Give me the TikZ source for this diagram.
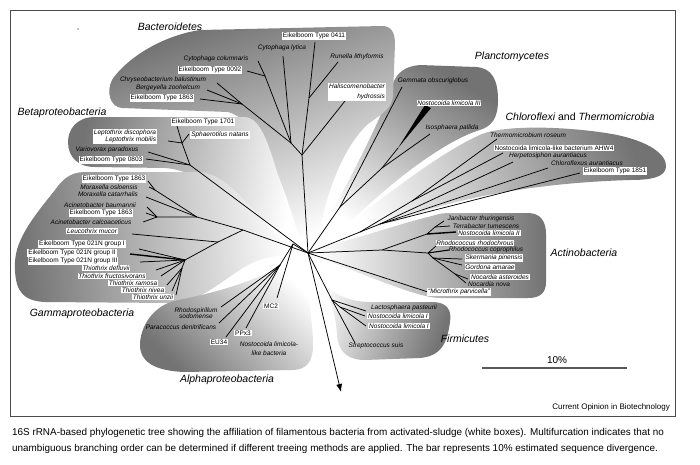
\documentclass[tikz,border=0pt]{standalone}
\usepackage{fontspec}
\setmainfont{Liberation Sans}
\usetikzlibrary{arrows.meta}
\tikzset{
  lbl/.style={font=\fontsize{6.5}{7}\selectfont\itshape, inner sep=0.8pt},
  boxlbl/.style={lbl, fill=white},
  uplbl/.style={font=\fontsize{6.5}{7}\selectfont, inner sep=0.8pt, fill=white},
  clade/.style={font=\fontsize{10.5}{12}\selectfont\itshape, inner sep=0pt},
  branch/.style={line width=0.75pt},
  blob/.style={top color=black!55, bottom color=white, draw=none},
}
\begin{document}
\begin{tikzpicture}[x=1pt, y=-1pt]
            \useasboundingbox (0,0) rectangle (700,464);
            \path[blob, shading angle=-70] (330,238) .. controls (380,200) and (440,152) .. (482,134) .. controls (505,125) and (565,126) .. (612,134) .. controls (650,141) and (667,155) .. (666,167) .. controls (665,177) and (652,180) .. (630,180) .. controls (560,182) and (482,192) .. (422,212) .. controls (382,225) and (352,238) .. (332,246) -- cycle;
            \path[blob, shading angle=-30] (318,236) .. controls (350,180) and (380,122) .. (392,86) .. controls (396,73) and (405,66) .. (420,65) -- (476,67) .. controls (492,68) and (498,80) .. (498,100) .. controls (498,118) and (492,126) .. (480,130) .. controls (440,142) and (378,192) .. (330,242) -- cycle;
            \path[blob, shading angle=20] (300,240) .. controls (282,180) and (262,122) .. (228,112) -- (122,108) .. controls (110,107) and (106,92) .. (112,80) .. controls (125,60) and (160,36) .. (200,30) -- (382,26) .. controls (391,26) and (395,32) .. (395,44) -- (393,96) .. controls (392,108) and (382,114) .. (368,124) .. controls (345,145) and (326,190) .. (318,240) -- cycle;
            \path[blob, shading angle=80] (300,245) .. controls (275,175) and (268,118) .. (245,117) -- (95,117) .. controls (76,117) and (68,130) .. (68,142) .. controls (68,157) and (78,167) .. (95,167) -- (165,168) .. controls (200,170) and (262,212) .. (295,250) -- cycle;
            \path[blob, shading angle=95] (292,250) .. controls (255,215) and (228,173) .. (200,172) -- (85,172) .. controls (70,172) and (62,180) .. (55,190) .. controls (35,215) and (16,238) .. (15,262) .. controls (14,290) and (22,301) .. (45,302) -- (172,303) .. controls (200,303) and (222,280) .. (248,265) .. controls (266,256) and (280,255) .. (292,256) -- cycle;
            \path[blob, shading angle=135] (292,258) .. controls (270,275) and (230,290) .. (178,300) .. controls (152,305) and (140,328) .. (140,345) .. controls (140,362) and (155,371) .. (185,372) -- (292,370) .. controls (308,370) and (313,360) .. (313,345) .. controls (313,318) and (306,285) .. (302,258) -- cycle;
            \path[blob, shading angle=-110] (318,275) .. controls (332,296) and (350,302) .. (372,302) -- (432,302) .. controls (447,302) and (452,310) .. (450,322) .. controls (447,345) and (440,356) .. (420,358) -- (365,360) .. controls (346,360) and (338,350) .. (337,335) .. controls (336,312) and (328,292) .. (312,268) -- cycle;
            \path[blob, shading angle=-90] (318,248) .. controls (360,238) and (405,222) .. (432,216) .. controls (438,214) and (442,213) .. (452,213) -- (528,213) .. controls (540,213) and (546,221) .. (546,234) -- (546,282) .. controls (546,293) and (540,298) .. (528,298) -- (440,298) .. controls (418,298) and (370,276) .. (318,258) -- cycle;
            \draw[line width=0.8pt, black!70] (10,10) rectangle (675,416);
            \fill (78,29) circle (0.7);
            % tree
            \coordinate (R) at (308,253);
            \coordinate (bA) at (302,155);
            \coordinate (bR) at (309,98);
            \coordinate (t0411) at (315,42);
            \coordinate (tRun) at (338,62);
            \coordinate (tHal) at (345,101);
            \coordinate (bC) at (291,143);
            \coordinate (tLyt) at (283,56);
            \coordinate (bD) at (265,76);
            \coordinate (tCol) at (258,61);
            \coordinate (t0092) at (247,71);
            \coordinate (bE) at (242,104);
            \coordinate (tChr) at (217,83);
            \coordinate (tBer) at (207,90);
            \coordinate (t1863a) at (200,99);
            \draw[branch] (R) -- (bA) -- (bR) -- (t0411);
            \draw[branch] (bR) -- (tRun);
            \draw[branch] (bA) -- (tHal);
            \draw[branch] (bA) -- (bC) -- (tLyt);
            \draw[branch] (bC) -- (bD) -- (tCol);
            \draw[branch] (bD) -- (t0092);
            \draw[branch] (bC) -- (bE) -- (tChr);
            \draw[branch] (bE) -- (tBer);
            \draw[branch] (bE) -- (t1863a);
            \coordinate (bt1) at (190,165);
            \coordinate (tVar) at (148,152);
            \coordinate (t0803) at (146,159);
            \coordinate (bt2) at (182,143);
            \coordinate (t1701) at (177,126);
            \coordinate (tLep) at (168,141);
            \coordinate (tSph) at (189,134);
            \draw[branch] (R) -- (bt1) -- (tVar);
            \draw[branch] (bt1) -- (t0803);
            \draw[branch] (bt1) -- (bt2) -- (t1701);
            \draw[branch] (bt2) -- (tLep);
            \draw[branch] (bt2) -- (tSph);
            \coordinate (g0) at (243,230);
            \coordinate (gM) at (197,217);
            \coordinate (tMcat) at (146,197);
            \coordinate (g1) at (155,190);
            \coordinate (t1863b) at (148,181);
            \coordinate (tMosl) at (149,187);
            \coordinate (gA) at (157,217);
            \coordinate (tAbau) at (147,207);
            \coordinate (t1863c) at (146,213);
            \coordinate (tAcal) at (143,222);
            \coordinate (gL) at (218,242);
            \coordinate (tLeu) at (132,234);
            \coordinate (gT) at (185,260);
            \coordinate (t021a) at (139,249);
            \coordinate (t021b) at (130,254);
            \coordinate (t021c) at (140,262);
            \coordinate (tTdef) at (156,270);
            \coordinate (tTfru) at (161,276);
            \coordinate (gT2) at (182,268);
            \coordinate (tTram) at (167,285);
            \coordinate (tTniv) at (172,291);
            \coordinate (tTunz) at (176,295);
            \draw[branch] (R) -- (g0) -- (gM) -- (tMcat);
            \draw[branch] (gM) -- (g1) -- (t1863b);
            \draw[branch] (g1) -- (tMosl);
            \draw[branch] (gM) -- (gA) -- (tAbau);
            \draw[branch] (gA) -- (t1863c);
            \draw[branch] (gA) -- (tAcal);
            \draw[branch] (g0) -- (gL) -- (tLeu);
            \draw[branch] (gL) -- (gT) -- (t021a);
            \draw[line width=1.4pt] (gT) -- (t021b);
            \draw[branch] (gT) -- (t021c);
            \draw[branch] (gT) -- (tTdef);
            \draw[branch] (gT) -- (tTfru);
            \draw[branch] (gT) -- (gT2) -- (tTram);
            \draw[branch] (gT2) -- (tTniv);
            \draw[branch] (gT2) -- (tTunz);
            \coordinate (aA) at (293,244);
            \coordinate (tMC2) at (277,298);
            \coordinate (aB) at (280,265);
            \coordinate (tRho) at (221,307);
            \coordinate (tPar) at (219,323);
            \coordinate (tEU34) at (226,337);
            \coordinate (tPPx3) at (246,328);
            \draw[branch] (R) -- (aA) -- (tMC2);
            \draw[branch] (aA) -- (aB) -- (tRho);
            \draw[branch] (aB) -- (tPar);
            \draw[branch] (aB) -- (tEU34);
            \draw[branch] (aB) -- (tPPx3);
            \coordinate (fN) at (332,300);
            \coordinate (fB) at (340,307);
            \coordinate (tLac) at (366,311);
            \coordinate (tNl1a) at (365,316);
            \coordinate (tNl1b) at (366,326);
            \coordinate (tStr) at (355,343);
            \draw[branch] (R) -- (fN) -- (tLac);
            \draw[branch] (fN) -- (fB) -- (tNl1a);
            \draw[branch] (fB) -- (tNl1b);
            \draw[branch] (fN) -- (tStr);
            \coordinate (aN) at (382,250);
            \coordinate (aU) at (427,234);
            \coordinate (aJ) at (435,227);
            \coordinate (tJan) at (444,221);
            \coordinate (tTer) at (450,226);
            \coordinate (tNl2) at (456,232);
            \coordinate (aR) at (428,253);
            \coordinate (tRrh) at (436,246);
            \coordinate (tRco) at (449,250);
            \coordinate (aS) at (433,258);
            \coordinate (tSke) at (462,259);
            \coordinate (tGor) at (462,265);
            \coordinate (aNo) at (455,274);
            \coordinate (tNast) at (468,279);
            \coordinate (tNnov) at (466,283);
            \coordinate (tMic) at (428,292);
            \draw[branch] (R) -- (aN) -- (aU) -- (aJ) -- (tJan);
            \draw[branch] (aJ) -- (tTer);
            \draw[line width=1.4pt] (aU) -- (tNl2);
            \draw[branch] (aN) -- (aR) -- (tRrh);
            \draw[line width=1.1pt] (aR) -- (tRco);
            \draw[branch] (aR) -- (aS) -- (tSke);
            \draw[branch] (aS) -- (tGor);
            \draw[branch] (aS) -- (aNo) -- (tNast);
            \draw[branch] (aNo) -- (tNnov);
            \draw[branch] (R) -- (tMic);
            \coordinate (cA) at (360,232);
            \coordinate (cB) at (412,201);
            \coordinate (tThe) at (497,139);
            \coordinate (tAHW) at (503,153);
            \coordinate (cC) at (380,224);
            \coordinate (tHer) at (513,162);
            \coordinate (tChl) at (548,168);
            \coordinate (t1851) at (580,173);
            \draw[branch] (R) -- (cA) -- (cB) -- (tThe);
            \draw[branch] (cB) -- (tAHW);
            \draw[branch] (cA) -- (cC) -- (tHer);
            \draw[branch] (cC) -- (tChl);
            \draw[branch] (cC) -- (t1851);
            \coordinate (pA) at (340,207);
            \coordinate (tGem) at (402,87);
            \coordinate (pB) at (382,168);
            \coordinate (tIso) at (430,134);
            \coordinate (pW) at (398,148);
            \draw[branch] (R) -- (pA) -- (tGem);
            \draw[branch] (pA) -- (pB) -- (tIso);
            \draw[branch] (pB) -- (pW);
            \fill (pW) -- (431,108) -- (425,105) -- cycle;
            \coordinate (arr) at (341,392);
            \draw[branch, -{Latex[length=8pt,width=6pt]}] (R) -- (arr);
            % labels
            \node[uplbl] (l0411) at (314,36) {Eikelboom Type 0411};
            \node[lbl] (lLyt) at (282,48) {Cytophaga lytica};
            \node[lbl] (lRun) at (357,57) {Runella lithyformis};
            \node[lbl] (lCol) at (216,59) {Cytophaga columnaris};
            \node[uplbl] (l0092) at (210,70) {Eikelboom Type 0092};
            \node[boxlbl, align=right, font=\fontsize{6.5}{9.5}\selectfont\itshape] (lHal) at (357,92) {Haliscomenobacter\\hydrossis};
            \node[lbl] (lChr) at (163,80) {Chryseobacterium balustinum};
            \node[lbl] (lBer) at (168,88) {Bergeyella zoohelcum};
            \node[uplbl] (l1863a) at (162,98) {Eikelboom Type 1863};
            \node[uplbl] (l1701) at (203,122) {Eikelboom Type 1701};
            \node[boxlbl, align=right] (lLep) at (125,136.5) {Leptothrix discophora\\Leptothrix mobilis};
            \node[boxlbl] (lSph) at (220,135) {Sphaerotilus natans};
            \node[lbl] (lVar) at (107,150) {Variovorax paradoxus};
            \node[uplbl] (l0803) at (111,160) {Eikelboom Type 0803};
            \node[uplbl] (l1863b) at (114,179) {Eikelboom Type 1863};
            \node[lbl] (lMosl) at (109,187) {Moraxella osloensis};
            \node[lbl] (lMcat) at (108,194) {Moraxella catarrhalis};
            \node[lbl] (lAbau) at (100,205) {Acinetobacter baumannii};
            \node[uplbl] (l1863c) at (101,213) {Eikelboom Type 1863};
            \node[lbl] (lAcal) at (91,222) {Acinetobacter calcoaceticus};
            \node[boxlbl] (lLeu) at (92,231) {Leucothrix mucor};
            \node[uplbl] (l021a) at (82,244) {Eikelboom Type 021N group I};
            \node[uplbl] (l021b) at (72,253) {Eikelboom Type 021N group II};
            \node[uplbl] (l021c) at (73,261) {Eikelboom Type 021N group III};
            \node[boxlbl] (lTdef) at (106,268) {Thiothrix defluvii};
            \node[boxlbl] (lTfru) at (112,276) {Thiothrix fructosivorans};
            \node[boxlbl] (lTram) at (133,283) {Thiothrix ramosa};
            \node[boxlbl] (lTniv) at (143,290) {Thiothrix nivea};
            \node[boxlbl] (lTunz) at (153,297) {Thiothrix unzii};
            \node[lbl, align=center, font=\fontsize{6.5}{6.5}\selectfont\itshape] (lRho) at (196,313) {Rhodospirillum\\sodomense};
            \node[lbl] (lPar) at (181,327) {Paracoccus denitrificans};
            \node[uplbl] (lEU34) at (219,342) {EU34};
            \node[uplbl] (lPPx3) at (243,333) {PPx3};
            \node[uplbl] (lMC2) at (271,306) {MC2};
            \node[lbl, align=center, font=\fontsize{6.5}{9}\selectfont\itshape] (lNlb) at (269,348.5) {Nostocoida limicola-\\like bacteria};
            \node[lbl] (lLac) at (404,308) {Lactosphaera pasteurii};
            \node[boxlbl] (lNl1a) at (398,316) {Nostocoida limicola I};
            \node[boxlbl] (lNl1b) at (399,326) {Nostocoida limicola I};
            \node[lbl] (lStr) at (376,346) {Streptococcus suis};
            \node[lbl] (lJan) at (481,219) {Janibacter thuringensis};
            \node[lbl] (lTer) at (486,226) {Terrabacter tumescens};
            \node[boxlbl] (lNl2) at (489,233) {Nostocoida limicola II};
            \node[boxlbl] (lRrh) at (475,243) {Rhodococcus rhodochrous};
            \node[lbl] (lRco) at (486,250) {Rhodococcus coprophilus};
            \node[boxlbl] (lSke) at (494,258) {Skermania pinensis};
            \node[boxlbl] (lGor) at (490,267) {Gordona amarae};
            \node[boxlbl] (lNast) at (500,277) {Nocardia asteroides};
            \node[lbl] (lNnov) at (489,284) {Nocardia nova};
            \node[boxlbl] (lMic) at (459,292) {“Microthrix parvicella”};
            \node[lbl] (lThe) at (528,135) {Thermomicrobium roseum};
            \node[uplbl] (lAHW) at (554,148) {Nostocoida limicola-like bacterium AHW4};
            \node[lbl] (lHer) at (548,156) {Herpetosiphon aurantiacus};
            \node[lbl] (lChl) at (587,163) {Chloroflexus aurantiacus};
            \node[uplbl] (l1851) at (615,171) {Eikelboom Type 1851};
            \node[lbl] (lGem) at (433,81) {Gemmata obscuriglobus};
            \node[boxlbl] (lNl3) at (449,103) {Nostocoida limicola III};
            \node[lbl] (lIso) at (452,128) {Isosphaera pallida};
            \node[clade] (cBac) at (170,27) {Bacteroidetes};
            \node[clade] (cBeta) at (62,113) {Betaproteobacteria};
            \node[clade] (cGam) at (82,314) {Gammaproteobacteria};
            \node[clade] (cAlp) at (227,380) {Alphaproteobacteria};
            \node[clade] (cFir) at (465,339) {Firmicutes};
            \node[clade] (cAct) at (584,253) {Actinobacteria};
            \node[clade] (cChl) at (580,117) {Chloroflexi \upshape and \itshape Thermomicrobia};
            \node[clade] (cPla) at (512,57) {Planctomycetes};
            \coordinate (sbL) at (482,368);
            \coordinate (sbR) at (627,368);
            \draw[line width=1.2pt, black!65] (sbL) -- (sbR);
            \node[font=\fontsize{10}{12}\selectfont] (pct) at (557,360) {10\%};
            \node[font=\fontsize{8}{10}\selectfont, anchor=east, inner sep=0pt] (jrn) at (670,407) {Current Opinion in Biotechnology};
            \node[font=\fontsize{9.9}{11}\selectfont, anchor=west, inner sep=0pt] (cap1) at (12,433) {16S rRNA-based phylogenetic tree showing the affiliation of filamentous bacteria from activated-sludge (white boxes). Multifurcation indicates that no};
            \node[font=\fontsize{9.9}{11}\selectfont, anchor=west, inner sep=0pt] (cap2) at (12,449) {unambiguous branching order can be determined if different treeing methods are applied. The bar represents 10\% estimated sequence divergence.};
        \end{tikzpicture}
\end{document}
